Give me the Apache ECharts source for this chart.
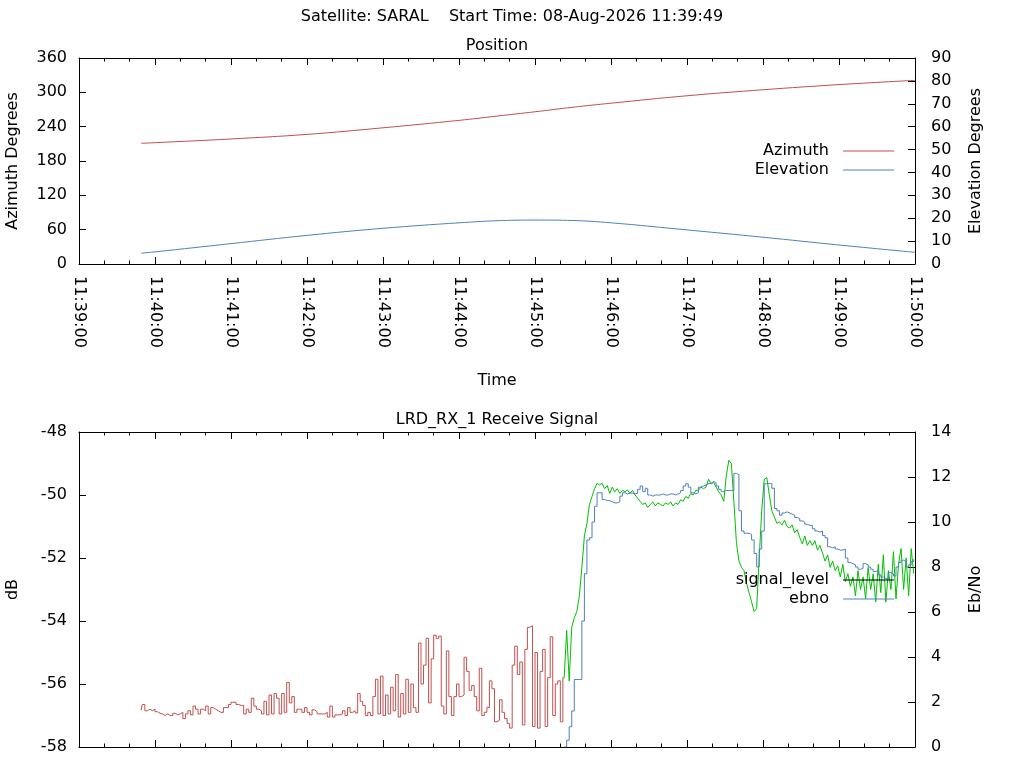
<!DOCTYPE html>
<html>
<head>
<meta charset="utf-8">
<title>SARAL pass</title>
<script src="https://cdn.jsdelivr.net/npm/echarts@6.0.0/dist/echarts.min.js"></script>
<style>
html, body { margin: 0; padding: 0; background: #fff; }
#chart { width: 1024px; height: 768px; }
</style>
</head>
<body>
<div id="chart"></div>
<script>
// seconds after 11:39:00
var posTimes = [49, 60, 120, 180, 240, 300, 330, 360, 390, 420, 480, 540, 600, 660];
var azimuth = [211, 212, 218.5, 226.5, 238, 251, 258.5, 266, 274, 281, 294, 304.5, 313.5, 321];
var elevation = [4.7, 5.3, 8.9, 12.5, 15.6, 18.0, 18.9, 19.2, 19.0, 18.0, 14.9, 11.7, 8.3, 5.1];

// signal level before lock, one value every 2 s from 49 s
var sigRedStart = 49;
var sigRed = [
  -56.83, -56.65, -56.85, -56.80, -56.85, -56.80, -56.88, -56.93, -56.95, -57.00, -56.95, -57.00, -57.00, -56.93, -56.98, -56.95, -56.90, -57.10, -56.95,
  -56.85, -56.98, -56.70, -56.80, -56.95, -56.80, -56.85, -56.70, -56.95, -56.75, -56.80, -56.85, -56.90, -56.90, -56.75, -56.75, -56.65, -56.58, -56.58,
  -56.65, -56.68, -56.68, -56.95, -56.80, -56.90, -56.45, -56.70, -56.80, -56.85, -56.95, -56.55, -56.98, -56.35, -56.95, -56.30, -56.45, -56.95, -56.30,
  -56.90, -55.95, -56.60, -56.40, -56.90, -56.80, -56.80, -56.90, -56.75, -56.90, -56.98, -56.82, -56.88, -56.95, -56.95, -56.95, -56.90, -57.05, -56.70,
  -57.05, -56.98, -56.98, -56.95, -56.85, -57.00, -56.75,
  -56.90, -56.85, -56.92, -56.30, -56.55, -56.68, -57.00, -56.90, -57.00, -56.40, -55.85, -56.95, -55.75, -57.00, -56.35, -56.95, -56.10, -56.85, -55.70,
  -57.05, -56.30, -56.95, -55.85, -56.90, -56.00, -56.75, -56.90, -54.70, -56.00, -55.40, -54.55, -56.60, -55.20, -54.45, -54.55, -54.48, -56.70, -56.95,
  -54.95, -56.40, -57.00, -56.40, -56.00, -56.40, -56.35, -55.15, -55.60, -56.20, -56.05, -56.40, -56.85, -55.50, -57.00, -56.90, -56.75, -55.90, -56.15,
  -57.20, -57.15, -56.50, -56.90, -57.10, -57.25, -57.40, -55.40, -54.80, -55.70, -55.30, -57.30, -54.90, -54.20, -54.15, -57.35, -55.00, -57.40, -55.60,
  -54.90, -57.35, -55.80, -54.50, -57.00, -56.00, -55.90, -57.20, -55.80
];

// signal level after lock, every 2 s from 385 s
var sigGreenStart = 385;
var sigGreen = [
  -54.3, -55.9, -54.2, -53.9, -53.7, -53.2, -52.3, -51.3, -50.9, -50.3, -50.05, -49.8, -49.63, -49.68, -49.63, -49.8, -49.7, -49.95, -49.75, -49.9,
  -49.8, -49.95, -49.85, -49.9, -49.84, -49.95, -49.85, -50.0, -50.1, -50.2, -50.3, -50.25, -50.4, -50.3, -50.22, -50.35, -50.25, -50.3, -50.35, -50.25,
  -50.3, -50.22, -50.35, -50.25, -50.3, -50.15, -50.2, -50.05, -50.1, -49.95, -50.0, -49.85, -49.85, -49.75, -49.8, -49.75, -49.5, -49.65, -49.6, -49.75,
  -49.9, -50.0, -50.2, -49.4, -48.9, -49.0, -50.2, -51.5, -52.1, -52.3, -52.4, -52.8, -53.1, -53.4, -53.7, -53.6, -52.0, -50.5, -49.5, -49.45,
  -50.0, -50.5, -50.7, -50.9, -50.85, -50.95, -50.8, -51.0, -51.05, -50.95, -51.2, -51.1, -51.35, -51.55, -51.3, -51.6, -51.45, -51.6, -51.45, -51.75,
  -51.6, -51.85, -52.1, -51.9, -52.3, -52.1, -52.4, -52.25, -52.6, -52.2, -52.75, -52.5, -52.9, -52.6, -53.2, -52.4, -53.0, -52.6, -53.3, -52.3,
  -53.0, -52.5, -53.4, -52.2, -53.1, -51.9, -53.4, -52.4, -53.0, -51.8, -53.3, -52.2, -51.7, -53.0, -52.0, -53.2, -51.7, -52.5
];

// Eb/No, every 2 s from 383 s
var ebnoStart = 383;
var ebno = [
  0, 0.3, 0.9, 1.6, 3.0, 3.0, 3.0, 5.6, 7.7, 9.2, 9.3, 10.0, 10.7, 11.3, 11.3, 11.0, 10.95, 10.95, 10.9, 10.85,
  10.85, 10.9, 11.15, 11.3, 11.25, 11.28, 11.28, 11.25, 11.28, 11.45, 11.6, 11.35, 11.5, 11.2, 11.15, 11.2, 11.2, 11.2, 11.25, 11.2,
  11.2, 11.25, 11.25, 11.2, 11.25, 11.3, 11.4, 11.6, 11.7, 11.55, 11.3, 11.25, 11.3, 11.55, 11.6, 11.65, 11.7, 11.72, 11.8, 11.75,
  11.6, 11.45, 11.35, 11.4, 11.4, 11.4, 11.4, 12.16, 12.1, 10.5, 9.6, 9.5, 9.5, 9.45, 9.2, 8.6, 8.0, 8.8, 9.6, 11.7,
  11.72, 11.7, 11.5, 10.6, 10.5, 10.3, 10.4, 10.45, 10.4, 10.35, 10.3, 10.2, 10.15, 10.05, 10.0, 9.9, 9.85, 9.85, 9.7, 9.6,
  9.55, 9.6, 9.4, 9.3, 8.9, 8.85, 8.9, 8.8, 8.75, 8.75, 8.8, 8.4, 8.2, 8.15, 8.1, 8.0, 7.9, 7.95, 8.15, 8.1,
  8.0, 7.9, 7.8, 7.85, 7.65, 7.55, 7.5, 7.45, 7.75, 7.7, 7.6, 8.0, 8.2, 8.3, 8.25, 8.0, 8.1, 8.25, 8.35
];

var RED = '#c0504d', BLUE = '#4f81bd', GREEN = '#00c000';
var FONT = 'DejaVu Sans';

function pairs(start, step, vals) {
    return vals.map(function (v, i) { return [start + i * step, v]; });
}
function pad(n) { return (n < 10 ? '0' : '') + n; }
function clock(v) {
    var s = 39 * 60 + v;
    return '11:' + pad(Math.floor(s / 60)) + ':' + pad(s % 60);
}

var redData = pairs(sigRedStart, 2, sigRed);
var greenData = [redData[redData.length - 1]].concat(pairs(sigGreenStart, 2, sigGreen));

var txt = { color: '#000', fontFamily: FONT, fontSize: 16 };

function xAx(grid, pos, labels) {
    return {
        type: 'value', gridIndex: grid, position: pos, min: 0, max: 660, interval: 60,
        axisLine: { onZero: false, lineStyle: { color: '#000', width: 1 } },
        axisTick: { inside: true, length: 7, lineStyle: { color: '#000' } },
        minorTick: { show: true, splitNumber: 3, length: 3.5, lineStyle: { color: '#000' } },
        splitLine: { show: false },
        axisLabel: labels ? { rotate: -90, margin: 12, formatter: clock, color: '#000', fontFamily: FONT, fontSize: 16 } : { show: false }
    };
}
function yAx(grid, pos, min, max, interval, name, gap, labelMargin) {
    return {
        type: 'value', gridIndex: grid, position: pos, min: min, max: max, interval: interval,
        name: name, nameLocation: 'middle', nameGap: gap, nameRotate: 90, nameTextStyle: txt,
        axisLine: { onZero: false, lineStyle: { color: '#000', width: 1 } },
        axisTick: { inside: true, length: 7, lineStyle: { color: '#000' } },
        splitLine: { show: false },
        axisLabel: { margin: labelMargin, color: '#000', fontFamily: FONT, fontSize: 16 }
    };
}
function legendAt(item, top) {
    return {
        data: [item], right: 130, top: top, orient: 'vertical', align: 'right', padding: 0,
        icon: 'rect', itemWidth: 51, itemHeight: 1,
        textStyle: { color: '#000', fontFamily: FONT, fontSize: 16, padding: [0, 9, 0, 0] },
        selectedMode: false
    };
}

var chart = echarts.init(document.getElementById('chart'));
var timeAxis = xAx(0, 'bottom', true);
timeAxis.name = 'Time';
timeAxis.nameLocation = 'middle';
timeAxis.nameGap = 109;
timeAxis.nameTextStyle = txt;

chart.setOption({
    animation: false,
    backgroundColor: '#fff',
    textStyle: { fontFamily: FONT },
    graphic: [
        { type: 'text', x: 512, y: 17, style: { text: 'Satellite: SARAL    Start Time: 08-Aug-2026 11:39:49', font: '16px "DejaVu Sans"', fill: '#000', align: 'center', verticalAlign: 'middle' } },
        { type: 'text', x: 497, y: 46, style: { text: 'Position', font: '16px "DejaVu Sans"', fill: '#000', align: 'center', verticalAlign: 'middle' } },
        { type: 'text', x: 497, y: 420, style: { text: 'LRD_RX_1 Receive Signal', font: '16px "DejaVu Sans"', fill: '#000', align: 'center', verticalAlign: 'middle' } }
    ],
    grid: [
        { left: 79, top: 58, width: 836, height: 206, outerBoundsMode: 'none' },
        { left: 79, top: 432, width: 836, height: 315, outerBoundsMode: 'none' }
    ],
    legend: [
        legendAt({ name: 'Azimuth' }, 143),
        legendAt({ name: 'Elevation' }, 162),
        legendAt({ name: 'signal_level', itemStyle: { color: '#000' }, lineStyle: { color: '#000' } }, 572),
        legendAt({ name: 'ebno' }, 591)
    ],
    xAxis: [timeAxis, xAx(0, 'top', false), xAx(1, 'bottom', false), xAx(1, 'top', false)],
    yAxis: [
        yAx(0, 'left', 0, 360, 60, 'Azimuth Degrees', 58, 12),
        yAx(0, 'right', 0, 90, 10, 'Elevation Degrees', 53, 16),
        yAx(1, 'left', -58, -48, 2, 'dB', 58, 12),
        yAx(1, 'right', 0, 14, 2, 'Eb/No', 53, 16)
    ],
    series: [
        {
            name: 'Azimuth', type: 'line', xAxisIndex: 0, yAxisIndex: 0, smooth: 0.4,
            data: posTimes.map(function (t, i) { return [t, azimuth[i]]; }),
            showSymbol: false, color: RED, lineStyle: { width: 1, color: RED }
        },
        {
            name: 'Elevation', type: 'line', xAxisIndex: 0, yAxisIndex: 1, smooth: 0.4,
            data: posTimes.map(function (t, i) { return [t, elevation[i]]; }),
            showSymbol: false, color: BLUE, lineStyle: { width: 1, color: BLUE }
        },
        {
            name: 'signal_level', type: 'line', xAxisIndex: 2, yAxisIndex: 2, step: 'middle',
            data: redData, showSymbol: false, color: RED, lineStyle: { width: 1, color: RED }
        },
        {
            name: 'signal_level', type: 'line', xAxisIndex: 2, yAxisIndex: 2,
            data: greenData, showSymbol: false, color: GREEN, lineStyle: { width: 1, color: GREEN }
        },
        {
            name: 'ebno', type: 'line', xAxisIndex: 2, yAxisIndex: 3, step: 'end',
            data: pairs(ebnoStart, 2, ebno), showSymbol: false, color: BLUE, lineStyle: { width: 1, color: BLUE }
        }
    ]
});
</script>
</body>
</html>
